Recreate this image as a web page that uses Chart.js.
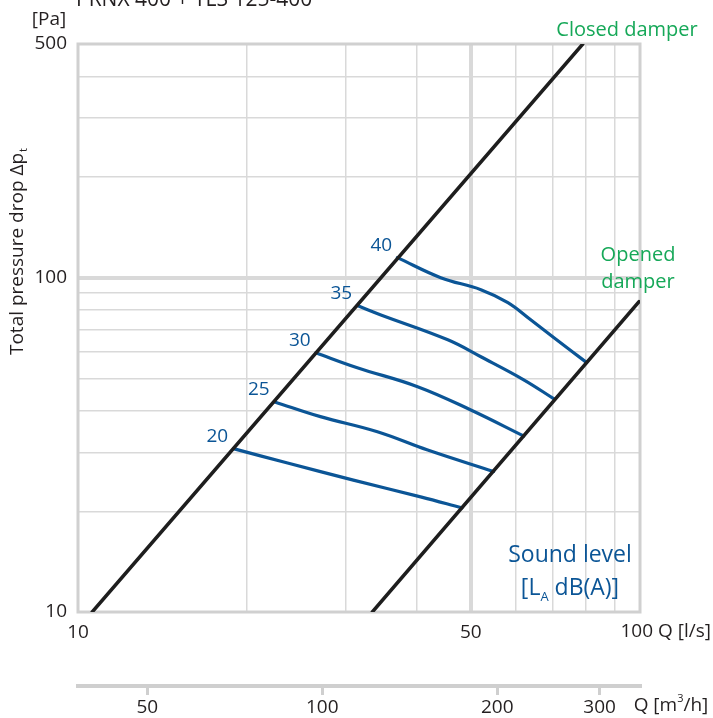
<!DOCTYPE html>
<html>
<head>
<meta charset="utf-8">
<script src="https://cdn.jsdelivr.net/npm/chart.js@4.4.1/dist/chart.umd.min.js"></script>
<style>
	html,body{margin:0;padding:0;background:#fff;}
	#wrap{width:713px;height:718px;}
</style>
</head>
<body>
<div id="wrap"><canvas id="chart" width="713" height="718"></canvas></div>
<script>
(function(){
	'use strict';

	// damper lines (Q in l/s, dp in Pa)
	var closedQ=[10.6, 79.1];
	var closedP=[10, 500];
	var openedQ=[33.4, 99.6];
	var openedP=[10, 84.8];

	// sound level curves, LA dB(A)
	var levels=[20, 25, 30, 35, 40];
	var q20=[18.9, 23.6, 30.9, 40.7, 48.2];
	var p20=[30.8, 27.9, 24.8, 22.1, 20.5];
	var q25=[22.4, 27.0, 34.1, 41.9, 54.9];
	var p25=[42.5, 38.4, 34.6, 30.5, 26.3];
	var q30=[26.5, 31.4, 40.2, 50.0, 62.1];
	var p30=[59.6, 53.8, 47.2, 40.2, 33.6];
	var q35=[31.4, 34.5, 45.5, 52.1, 62.1, 70.3];
	var p35=[82.5, 77.5, 65.2, 58.0, 49.5, 43.4];
	var q40=[37.0, 44.2, 52.1, 58.2, 63.9, 70.3, 80.4];
	var p40=[114.8, 100, 92.1, 84.2, 74.8, 66.1, 55.7];

	// axes
	var xGrid=[10, 20, 30, 40, 50, 60, 70, 80, 90, 100];
	var xLabels=[10, 50];
	var yGrid=[10, 20, 30, 40, 50, 60, 70, 80, 90, 100, 200, 300, 400, 500];
	var yLabels=[10, 100, 500];
	var m3hTicks=[50, 100, 200, 300];

	var BLUE='#0b5596';
	var GREEN='#16a858';
	var DARK='#231f20';
	var FONT='"Open Sans", sans-serif';

	function pts(q, p){
		return q.map(function(v, i){ return {x:v, y:p[i]}; });
	}

	var curves=[[q20,p20],[q25,p25],[q30,p30],[q35,p35],[q40,p40]];

	var datasets=[
		{data:pts(closedQ, closedP), borderColor:'#1e1e1e', borderWidth:3.5},
		{data:pts(openedQ, openedP), borderColor:'#1e1e1e', borderWidth:3.5}
	];
	curves.forEach(function(c){
		datasets.push({data:pts(c[0], c[1]), borderColor:BLUE, borderWidth:3.2, tension:0.4});
	});

	var annot={
		id:'annot',
		beforeDatasetsDraw:function(chart){
			var ctx=chart.ctx, a=chart.chartArea;
			ctx.save();
			ctx.strokeStyle='#d0d0d0';
			ctx.lineWidth=3;
			ctx.strokeRect(a.left, a.top, a.right-a.left, a.bottom-a.top);
			ctx.restore();
		},
		afterDraw:function(chart){
			var ctx=chart.ctx;
			var xs=chart.scales.x, ys=chart.scales.y, x2=chart.scales.x2;
			ctx.save();

			// title (cut at the top like the source)
			ctx.fillStyle=DARK;
			ctx.font='21px '+FONT;
			ctx.textAlign='left';
			ctx.textBaseline='alphabetic';
			ctx.fillText('PRNX 400 + TLS 125-400', 76, 6);
			ctx.textBaseline='middle';

			ctx.font='19px '+FONT;
			ctx.textAlign='center';
			ctx.fillText('[Pa]', 49, 20);

			// y title with subscript
			ctx.save();
			ctx.translate(18, 252);
			ctx.rotate(-Math.PI/2);
			ctx.font='19px '+FONT;
			var main='Total pressure drop \u0394p';
			var w=ctx.measureText(main).width;
			ctx.font='11px '+FONT;
			var ws=ctx.measureText('t').width;
			ctx.font='19px '+FONT;
			ctx.textAlign='left';
			ctx.fillText(main, -(w+ws)/2, 0);
			ctx.font='11px '+FONT;
			ctx.fillText('t', -(w+ws)/2+w+1, 6);
			ctx.restore();

			// x labels with units
			ctx.font='19px '+FONT;
			ctx.textAlign='right';
			ctx.fillText('100 Q [l/s]', 711, 632);
			ctx.textAlign='left';
			var qx=x2.getPixelForValue(300)+34;
			ctx.fillText('Q [m', qx, 706);
			var wq=ctx.measureText('Q [m').width;
			ctx.font='11px '+FONT;
			ctx.fillText('3', qx+wq, 699);
			var w3=ctx.measureText('3').width;
			ctx.font='19px '+FONT;
			ctx.fillText('/h]', qx+wq+w3, 706);

			// damper names
			ctx.fillStyle=GREEN;
			ctx.font='20px '+FONT;
			ctx.textAlign='center';
			ctx.fillText('Closed damper', 627, 30);
			ctx.fillText('Opened', 638, 255);
			ctx.fillText('damper', 638, 282);

			// sound level legend
			ctx.fillStyle=BLUE;
			ctx.font='23px '+FONT;
			ctx.fillText('Sound level', 570, 555);
			var t1='[L', t2=' dB(A)]';
			var w1=ctx.measureText(t1).width, w2=ctx.measureText(t2).width;
			ctx.font='13px '+FONT;
			var wa=ctx.measureText('A').width;
			var sx=570-(w1+wa+w2)/2;
			ctx.font='23px '+FONT;
			ctx.textAlign='left';
			ctx.fillText(t1, sx, 588);
			ctx.font='13px '+FONT;
			ctx.fillText('A', sx+w1, 597);
			ctx.font='23px '+FONT;
			ctx.fillText(t2, sx+w1+wa, 588);

			// level numbers at curve starts
			ctx.font='19px '+FONT;
			ctx.textAlign='center';
			curves.forEach(function(c, i){
				var px=xs.getPixelForValue(c[0][0]);
				var py=ys.getPixelForValue(c[1][0]);
				ctx.fillText(String(levels[i]), px-16, py-12);
			});
			ctx.restore();
		}
	};

	new Chart(document.getElementById('chart'),{
		type:'line',
		data:{datasets:datasets},
		plugins:[annot],
		options:{
			responsive:false,
			animation:false,
			events:[],
			layout:{padding:{top:44, right:73, left:0, bottom:2}},
			elements:{point:{radius:0}, line:{fill:false, borderCapStyle:'round'}},
			plugins:{legend:{display:false}, tooltip:{enabled:false}, title:{display:false}},
			scales:{
				x:{
					type:'logarithmic',
					position:'bottom',
					min:10, max:100,
					afterBuildTicks:function(s){ s.ticks=xGrid.map(function(v){ return {value:v}; }); },
					afterFit:function(s){ s.height=74; },
					border:{display:false},
					grid:{
						drawTicks:false,
						color:'#d9d9d9',
						lineWidth:function(c){ return c.tick && c.tick.value===50 ? 4 : 1.5; }
					},
					ticks:{
						autoSkip:false, maxRotation:0, padding:9,
						color:DARK, font:{family:FONT, size:19},
						callback:function(v){ return xLabels.indexOf(v)>=0 ? String(v) : ''; }
					}
				},
				x2:{
					type:'logarithmic',
					position:'bottom',
					min:38, max:352,
					afterBuildTicks:function(s){ s.ticks=m3hTicks.map(function(v){ return {value:v}; }); },
					afterFit:function(s){ s.height=30; },
					border:{display:true, color:'#cfcfcf', width:4},
					grid:{drawOnChartArea:false, drawTicks:true, tickLength:9, color:'#cfcfcf', lineWidth:3},
					ticks:{
						autoSkip:false, maxRotation:0, padding:1,
						color:DARK, font:{family:FONT, size:19},
						callback:function(v){ return String(v); }
					}
				},
				y:{
					type:'logarithmic',
					min:10, max:500,
					afterBuildTicks:function(s){ s.ticks=yGrid.map(function(v){ return {value:v}; }); },
					afterFit:function(s){ s.width=78; },
					border:{display:false},
					grid:{
						drawTicks:false,
						color:'#d9d9d9',
						lineWidth:function(c){ return c.tick && c.tick.value===100 ? 4 : 1.5; }
					},
					ticks:{
						autoSkip:false, padding:11,
						color:DARK, font:{family:FONT, size:19},
						callback:function(v){ return yLabels.indexOf(v)>=0 ? String(v) : ''; }
					}
				}
			}
		}
	});
})();
</script>
</body>
</html>
